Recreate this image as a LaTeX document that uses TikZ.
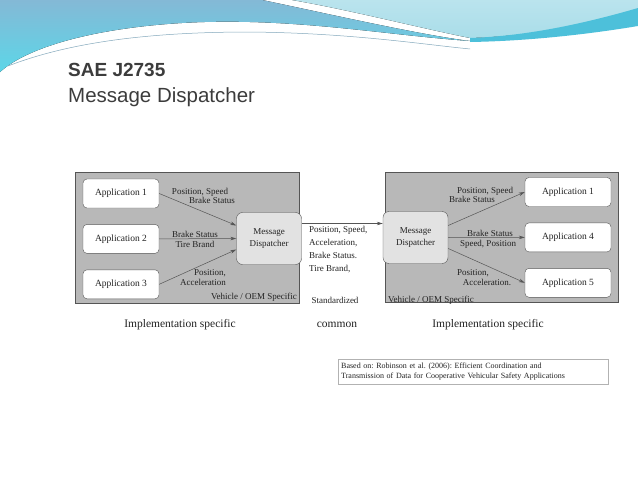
\documentclass[tikz,border=0pt]{standalone}
\usepackage{fontspec}
\setmainfont{Liberation Serif}
\newfontfamily\titlefont{Liberation Sans}
\usepackage{xcolor}
\usetikzlibrary{arrows.meta, positioning}

\definecolor{panelgray}{HTML}{B8B8B8}
\definecolor{dispfill}{HTML}{E2E2E2}
\definecolor{boxline}{HTML}{555555}
\definecolor{diagtext}{HTML}{222222}
\definecolor{titlegray}{HTML}{3C3C3C}
\definecolor{waveblue}{HTML}{84B9D6}
\definecolor{wavecyan}{HTML}{5CD6E8}
\definecolor{wavelight}{HTML}{A9DDE9}
\definecolor{wavedark}{HTML}{4DC0DA}

\begin{document}
\begin{tikzpicture}[x=1pt, y=-1pt,
        node distance = 16pt and 20pt,
        app/.style = {rectangle, draw=boxline, fill=white, rounded corners=4pt, minimum height=29pt, inner sep=1pt, font=\fontsize{9.5}{11}\selectfont, text=diagtext},
        dispatcher/.style = {rectangle, draw=boxline, fill=dispfill, rounded corners=6pt, minimum width=65pt, minimum height=52pt, align=center, inner sep=1pt, font=\fontsize{9}{12}\selectfont, text=diagtext},
        panel/.style = {fill=panelgray, draw=boxline, line width=0.4pt},
        lbl/.style = {inner sep=0pt, font=\fontsize{9}{10}\selectfont, text=diagtext},
        caption/.style = {inner sep=0pt, font=\fontsize{11.5}{13}\selectfont, text=diagtext},
        arrow/.style = {-{Stealth[length=6pt, width=3.5pt]}, draw=boxline, line width=0.5pt}
    ]
        \useasboundingbox (0,0) rectangle (638,479);
        \fill[white] (0,0) rectangle (638,479);

        % Header waves
        \fill[top color=waveblue, bottom color=wavecyan] (0,0) -- (262,0) .. controls (320,12) and (420,35) .. (470,41) .. controls (400,36) and (330,24) .. (250,22) .. controls (150,19) and (40,36) .. (0,72) -- cycle;
        \fill[top color=wavelight!80!white, bottom color=wavelight] (292,0) -- (638,0) -- (638,12) .. controls (590,25) and (530,36) .. (470,38) .. controls (420,28) and (350,10) .. (292,0) -- cycle;
        \fill[wavedark] (470,38) .. controls (530,36) and (590,22) .. (638,8) -- (638,26) .. controls (590,34) and (530,41) .. (470,42) -- cycle;
        \draw[waveblue!70!gray, line width=0.5pt] (8,66) .. controls (70,42) and (150,32) .. (250,32) .. controls (350,33) and (420,44) .. (470,49);

        % Title
        \node[anchor=west, inner sep=0pt, font=\titlefont\bfseries\fontsize{19}{22}\selectfont, text=titlegray] (Title) at (68,70) {SAE J2735};
        \node[anchor=west, inner sep=0pt, font=\titlefont\fontsize{20.5}{24}\selectfont, text=titlegray] (Subtitle) at (68,97) {Message Dispatcher};

        % Left panel: sender side
        \draw[panel] (75,172) rectangle (299,303);
        \node[app, minimum width=76pt] (AppA) at (121,193.5) {Application 1};
        \node[app, minimum width=76pt, below=of AppA] (AppB) {Application 2};
        \node[app, minimum width=76pt, below=of AppB] (AppC) {Application 3};
        \node[dispatcher] (DispL) at (269,238.5) {Message\\Dispatcher};
        \node[lbl, anchor=south east] (VehL) at (297,302) {Vehicle / OEM Specific};

        % Right panel: receiver side
        \draw[panel] (385,172) rectangle (618,302);
        \node[app, minimum width=86pt] (AppD) at (568,192) {Application 1};
        \node[app, minimum width=86pt, below=of AppD] (AppE) {Application 4};
        \node[app, minimum width=86pt, below=of AppE] (AppF) {Application 5};
        \node[dispatcher] (DispR) at (415.5,237.5) {Message\\Dispatcher};
        \node[lbl, anchor=south west] (VehR) at (388,305) {Vehicle / OEM Specific};

        % Connections
        \draw [arrow] (AppA.east) -- ([yshift=13pt]DispL.west);
        \draw [arrow] (AppB.east) -- (DispL.west);
        \draw [arrow] (AppC.east) -- ([yshift=-11pt]DispL.west);
        \draw [arrow] ([yshift=15pt]DispL.east) -- ([yshift=15pt]DispL.east -| DispR.west);
        \draw [arrow] ([yshift=12pt]DispR.east) -- (AppD.west);
        \draw [arrow] (DispR.east) -- (AppE.west);
        \draw [arrow] ([yshift=-11pt]DispR.east) -- (AppF.west);

        % Connector labels
        \node[lbl] (LabA1) at (200,192) {Position, Speed};
        \node[lbl] (LabA2) at (212,200) {Brake Status};
        \node[lbl] (LabB1) at (195,234) {Brake Status};
        \node[lbl] (LabB2) at (195,244.5) {Tire Brand};
        \node[lbl] (LabC1) at (210,273) {Position,};
        \node[lbl] (LabC2) at (203,282) {Acceleration};
        \node[lbl, anchor=north west, align=left, font=\fontsize{9}{12.7}\selectfont] (LabMid) at (309,226.5) {Position, Speed,\\Acceleration,\\Brake Status.\\Tire Brand,};
        \node[lbl] (LabStd) at (335,300) {Standardized};
        \node[lbl] (LabD1) at (485,191) {Position, Speed};
        \node[lbl] (LabD2) at (472,199) {Brake Status};
        \node[lbl] (LabE1) at (490,233) {Brake Status};
        \node[lbl] (LabE2) at (488,244) {Speed, Position};
        \node[lbl] (LabF1) at (473,273) {Position,};
        \node[lbl] (LabF2) at (487,282) {Acceleration.};

        % Captions
        \node[caption] (CapL) at (180,325) {Implementation specific};
        \node[caption] (CapM) at (337,325) {common};
        \node[caption] (CapR) at (488,325) {Implementation specific};

        % Source
        \node[draw=gray!60, fill=white, anchor=north west, text width=264pt, minimum height=25pt, align=left, inner sep=3pt, font=\frenchspacing\fontsize{8}{9.4}\selectfont, text=diagtext] (Source) at (338,359) {Based on: Robinson et al. (2006): Efficient Coordination and\\Transmission of Data for Cooperative Vehicular Safety Applications};

    \end{tikzpicture}
\end{document}
